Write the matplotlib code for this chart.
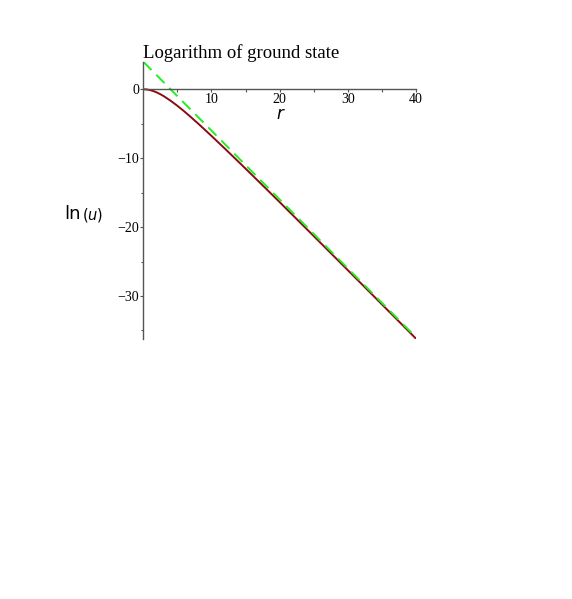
import numpy as np
import matplotlib
matplotlib.use('Agg')
import matplotlib.pyplot as plt

# valores (ln de u vs r)
r_vals = [0, 0.5, 1, 1.5, 2, 2.5, 3, 4, 5, 6, 7, 8, 9, 10, 12, 14, 16, 18, 20, 25, 30, 35, 40]
lnu_vals = [0, -0.03, -0.12, -0.27, -0.47, -0.72, -1.0, -1.66, -2.4, -3.2, -4.06, -4.94,
            -5.85, -6.77, -8.65, -10.56, -12.49, -14.43, -16.38, -21.31, -26.26, -31.22, -36.2]

# asintota (recta discontinua)
asym_r = [0, 40]
asym_y = [4.0, -36.0]

plt.rcParams['font.family'] = ['Liberation Serif', 'DejaVu Serif']
plt.rcParams['mathtext.fontset'] = 'dejavusans'

fig = plt.figure(figsize=(5.72, 5.99), dpi=100)
ax = fig.add_axes([0.2505, 0.4346, 0.4768, 0.4624])

ax.plot(r_vals, lnu_vals, color='#8b0a14', lw=1.4)
ax.plot(asym_r, asym_y, color='#22ee22', lw=1.4, dashes=(6, 3.5))

ax.set_xlim(0, 40)
ax.set_ylim(-36.2, 4.0)

ax.spines['left'].set_position(('data', 0))
ax.spines['bottom'].set_position(('data', 0))
ax.spines['right'].set_visible(False)
ax.spines['top'].set_visible(False)
for s in ['left', 'bottom']:
    ax.spines[s].set_color('#555555')
    ax.spines[s].set_linewidth(1.0)

ax.set_xticks([10, 20, 30, 40])
ax.set_xticks([5, 15, 25, 35], minor=True)
ax.set_yticks([0, -10, -20, -30])
ax.set_yticks([-5, -15, -25, -35], minor=True)
ax.set_yticklabels(['0', '\u221210', '\u221220', '\u221230'])
ax.tick_params(which='major', direction='out', length=2.5, width=0.8, color='#555555',
               labelsize=10, pad=0.5)
ax.tick_params(which='minor', direction='out', length=1.8, width=0.8, color='#555555')

ax.text(0, 1.0, 'Logarithm of ground state', transform=ax.transAxes, fontsize=13.5,
        ha='left', va='bottom')
ax.text(20.0, -3.6, 'r', fontsize=12, style='italic', family='DejaVu Sans',
        ha='center', va='center')
fig.text(0.142, 0.643, 'ln', fontsize=13, family='DejaVu Sans', ha='right', va='center')
fig.text(0.143, 0.641, r'$(\mathit{u})$', fontsize=10.5, ha='left', va='center')

fig.savefig('out.png', dpi=100)
